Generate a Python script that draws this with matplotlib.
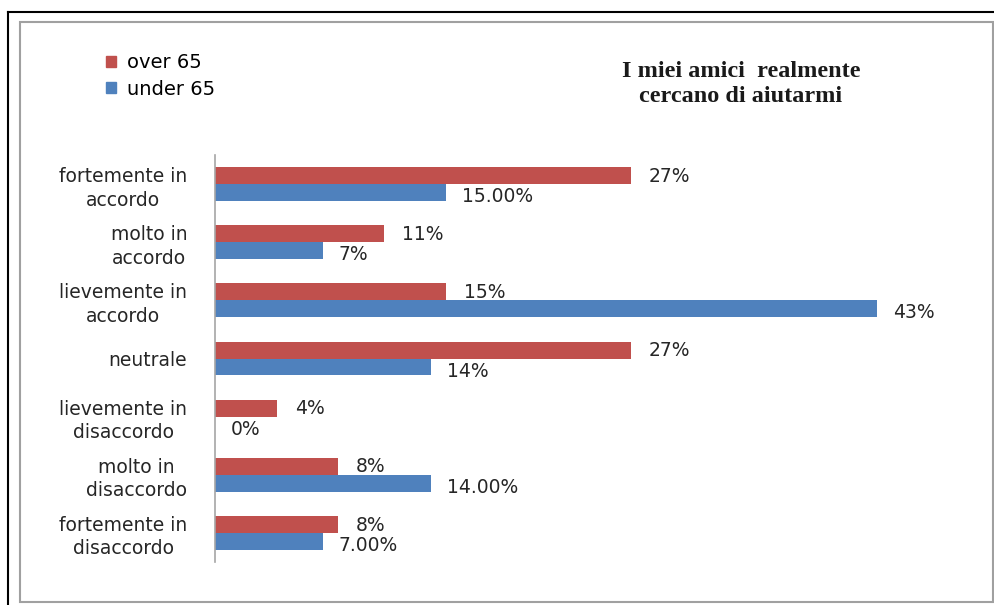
import matplotlib
matplotlib.use("Agg")
import matplotlib.pyplot as plt
from matplotlib.patches import Rectangle, Patch
from matplotlib.lines import Line2D
import numpy as np

categories = ["fortemente in\naccordo", "molto in\naccordo", "lievemente in\naccordo",
              "neutrale", "lievemente in\ndisaccordo", "molto in\ndisaccordo",
              "fortemente in\ndisaccordo"]
over65 = [27, 11, 15, 27, 4, 8, 8]
under65 = [15, 7, 43, 14, 0, 14, 7]
over65_labels = ["27%", "11%", "15%", "27%", "4%", "8%", "8%"]
under65_labels = ["15.00%", "7%", "43%", "14%", "0%", "14.00%", "7.00%"]
series_names = ["over 65", "under 65"]
title = "I miei amici  realmente\ncercano di aiutarmi"

RED = "#C0504D"
BLUE = "#4F81BD"

W, H = 995, 605
fig = plt.figure(figsize=(W / 100, H / 100), dpi=100)
fig.patch.set_facecolor("white")

# frames
fig.add_artist(Line2D([8 / W, 1], [1 - 12 / H, 1 - 12 / H], color="black", lw=1.5, transform=fig.transFigure))
fig.add_artist(Line2D([8 / W, 8 / W], [0, 1 - 12 / H], color="black", lw=1.5, transform=fig.transFigure))
fig.add_artist(Rectangle((20 / W, 3 / H), (993 - 20) / W, (602 - 22) / H, fill=False,
                         edgecolor="#A0A0A0", lw=1.5, transform=fig.transFigure))

ax_left, ax_right = 215, 960
ax_top, ax_bot = 155, 562
ax = fig.add_axes([ax_left / W, 1 - ax_bot / H, (ax_right - ax_left) / W, (ax_bot - ax_top) / H])
px_per_pct = (877 - 215) / 43.0
ax.set_xlim(0, (ax_right - ax_left) / px_per_pct)
n = len(categories)
ax.set_ylim(n - 0.5, -0.5)

y = np.arange(n)
h = 0.29
ax.barh(y - h / 2, over65, height=h, color=RED, label=series_names[0])
ax.barh(y + h / 2, under65, height=h, color=BLUE, label=series_names[1])

off = 18 / px_per_pct
for i in range(n):
    ax.text(over65[i] + off, y[i] - h / 2 + 0.01, over65_labels[i], va="center", ha="left",
            fontsize=13.5, color="#262626")
    ax.text(under65[i] + off * 0.9, y[i] + h / 2 + 0.07, under65_labels[i], va="center", ha="left",
            fontsize=13.5, color="#262626")

ax.set_yticks(y)
ax.set_yticklabels(categories, fontsize=13.5, color="#262626", multialignment="center",
                   linespacing=1.3)
ax.tick_params(axis="y", length=0, pad=20)
ax.set_xticks([])
for s in ["top", "right", "bottom"]:
    ax.spines[s].set_visible(False)
ax.spines["left"].set_color("#A6A6A6")
ax.spines["left"].set_linewidth(1.2)

handles = [Patch(color=RED), Patch(color=BLUE)]
fig.legend(handles, series_names, loc="upper left", bbox_to_anchor=(106 / W, 1 - 53 / H),
           frameon=False, fontsize=14, handlelength=0.5, handleheight=0.5,
           handletextpad=0.6, labelspacing=0.4, borderaxespad=0, borderpad=0)

fig.text(741 / W, 1 - 84 / H, title, ha="center", va="center", fontsize=17.5,
         family="Liberation Serif", weight="bold", color="#1a1a1a", linespacing=1.3)

fig.savefig("out.png", dpi=100)
